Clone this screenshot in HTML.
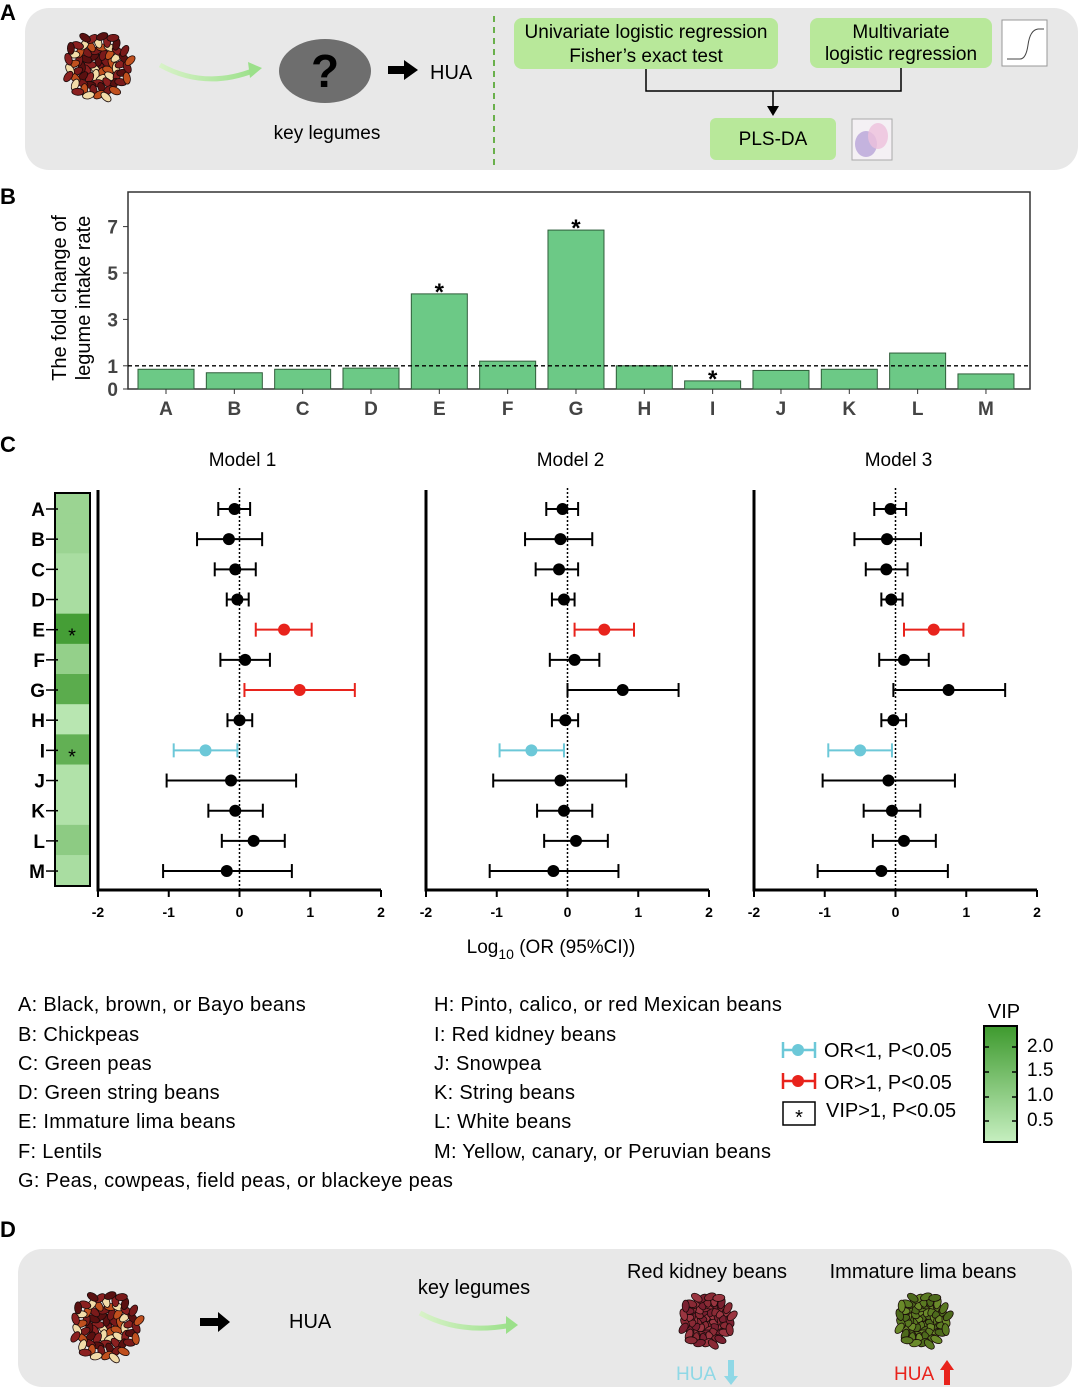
<!DOCTYPE html>
<html><head><meta charset="utf-8"><style>
html,body{margin:0;padding:0;background:#fff}
svg{display:block;font-family:"Liberation Sans",Arial,sans-serif}
</style></head><body>
<svg id="fig" width="1080" height="1389" viewBox="0 0 1080 1389" xmlns="http://www.w3.org/2000/svg">
<defs>
<linearGradient id="vipgrad" x1="0" y1="1" x2="0" y2="0"><stop offset="0" stop-color="#c6efc0"/><stop offset="1" stop-color="#3e9a2e"/></linearGradient>
<linearGradient id="arrgrad" x1="0" y1="0" x2="1" y2="0"><stop offset="0" stop-color="#d8f2c8"/><stop offset="1" stop-color="#9be08a"/></linearGradient>
</defs>
<!-- Panel A -->
<text x="0" y="20" font-size="22" font-weight="bold">A</text>
<rect x="25" y="8" width="1053" height="162" rx="24" fill="#e8e8e8"/>
<g id="beansA"></g>
<path d="M160,65 Q205,90 255,70" stroke="url(#arrgrad)" stroke-width="5" fill="none"/>
<polygon points="248,62 262,68 250,78" fill="#9be08a"/>
<ellipse cx="325" cy="71" rx="46" ry="32" fill="#6e6e6e"/>
<text x="325" y="87" font-size="46" font-weight="bold" text-anchor="middle" fill="#000">?</text>
<polygon points="388,66 404,66 404,60 418,70 404,80 404,74 388,74" fill="#000"/>
<text x="430" y="79" font-size="20">HUA</text>
<text x="327" y="139" font-size="19" text-anchor="middle">key legumes</text>
<line x1="494" y1="16" x2="494" y2="165" stroke="#6ab04c" stroke-width="2" stroke-dasharray="6,5"/>
<rect x="514" y="18" width="264" height="51" rx="8" fill="#b8e89a"/>
<text x="646" y="38" font-size="19" text-anchor="middle">Univariate logistic regression</text>
<text x="646" y="62" font-size="19" text-anchor="middle">Fisher’s exact test</text>
<rect x="810" y="18" width="182" height="50" rx="8" fill="#b8e89a"/>
<text x="901" y="38" font-size="19" text-anchor="middle">Multivariate</text>
<text x="901" y="60" font-size="19" text-anchor="middle">logistic regression</text>
<rect x="1002" y="20" width="45" height="46" fill="#fff" stroke="#999"/>
<path d="M1007,59 L1020,59 Q1026,59 1028,45 Q1030,30 1038,29 L1044,29" stroke="#444" fill="none"/>
<path d="M646,69 V91 H901 V68 M773,91 V108" stroke="#000" stroke-width="1.5" fill="none"/>
<polygon points="767,106 779,106 773,116" fill="#000"/>
<rect x="710" y="118" width="126" height="42" rx="6" fill="#b8e89a"/>
<text x="773" y="145" font-size="19" text-anchor="middle">PLS-DA</text>
<rect x="852" y="119" width="40" height="41" fill="#f4f0f4" stroke="#aaa"/>
<ellipse cx="866" cy="144" rx="11" ry="13" fill="#b8a4d8" opacity="0.8"/>
<ellipse cx="878" cy="136" rx="10" ry="13" fill="#eec0dc" opacity="0.8"/>

<!-- Panel B -->
<text x="0" y="204" font-size="22" font-weight="bold">B</text>
<text transform="translate(66,298) rotate(-90)" font-size="20" text-anchor="middle">The fold change of</text>
<text transform="translate(90,298) rotate(-90)" font-size="20" text-anchor="middle">legume intake rate</text>
<g id="chartB"></g>

<!-- Panel C -->
<text x="0" y="452" font-size="22" font-weight="bold">C</text>
<g id="chartC"></g>
<text x="551" y="953" font-size="19" text-anchor="middle">Log<tspan font-size="14" dy="6">10</tspan><tspan dy="-6"> (OR (95%CI))</tspan></text>

<!-- Legend text -->
<g font-size="20" letter-spacing="0.3">
<text x="18" y="1011">A:  Black, brown, or Bayo beans</text>
<text x="18" y="1041">B:  Chickpeas</text>
<text x="18" y="1070">C: Green peas</text>
<text x="18" y="1099">D: Green string beans</text>
<text x="18" y="1128">E:  Immature lima beans</text>
<text x="18" y="1158">F:  Lentils</text>
<text x="18" y="1187">G:  Peas, cowpeas, field peas, or blackeye peas</text>
<text x="434" y="1011">H: Pinto, calico, or red Mexican beans</text>
<text x="434" y="1041">I:  Red kidney beans</text>
<text x="434" y="1070">J: Snowpea</text>
<text x="434" y="1099">K: String beans</text>
<text x="434" y="1128">L:  White beans</text>
<text x="434" y="1158">M: Yellow, canary, or Peruvian beans</text>
</g>
<g>
<line x1="783" y1="1050" x2="815" y2="1050" stroke="#6cc8d8" stroke-width="2.5"/><line x1="783" y1="1042" x2="783" y2="1058" stroke="#6cc8d8" stroke-width="2.5"/><line x1="815" y1="1042" x2="815" y2="1058" stroke="#6cc8d8" stroke-width="2.5"/><circle cx="798" cy="1050" r="6" fill="#6cc8d8"/>
<text x="824" y="1057" font-size="20">OR&lt;1, P&lt;0.05</text>
<line x1="783" y1="1081" x2="815" y2="1081" stroke="#e8231c" stroke-width="2.5"/><line x1="783" y1="1073" x2="783" y2="1089" stroke="#e8231c" stroke-width="2.5"/><line x1="815" y1="1073" x2="815" y2="1089" stroke="#e8231c" stroke-width="2.5"/><circle cx="798" cy="1081" r="6" fill="#e8231c"/>
<text x="824" y="1089" font-size="20">OR&gt;1, P&lt;0.05</text>
<rect x="783" y="1102" width="32" height="23" fill="#fff" stroke="#000" stroke-width="1.5"/><text x="799" y="1124" font-size="20" text-anchor="middle">*</text>
<text x="826" y="1117" font-size="20">VIP&gt;1, P&lt;0.05</text>
</g>
<g>
<text x="1004" y="1018" font-size="20" text-anchor="middle">VIP</text>
<rect x="984" y="1026" width="33" height="116" fill="url(#vipgrad)" stroke="#000" stroke-width="2"/>
<g stroke="#000" stroke-width="1.5"><line x1="984" y1="1047" x2="989" y2="1047"/><line x1="1012" y1="1047" x2="1017" y2="1047"/><line x1="984" y1="1072" x2="989" y2="1072"/><line x1="1012" y1="1072" x2="1017" y2="1072"/><line x1="984" y1="1097" x2="989" y2="1097"/><line x1="1012" y1="1097" x2="1017" y2="1097"/><line x1="984" y1="1121" x2="989" y2="1121"/><line x1="1012" y1="1121" x2="1017" y2="1121"/></g>
<g font-size="19"><text x="1027" y="1052">2.0</text><text x="1027" y="1076">1.5</text><text x="1027" y="1101">1.0</text><text x="1027" y="1126">0.5</text></g>
</g>

<!-- Panel D -->
<text x="0" y="1237" font-size="22" font-weight="bold">D</text>
<rect x="18" y="1249" width="1054" height="138" rx="24" fill="#e8e8e8"/>
<g id="beansD"></g>
<polygon points="200,1318 218,1318 218,1312 230,1322 218,1332 218,1326 200,1326" fill="#000"/>
<text x="289" y="1328" font-size="20">HUA</text>
<text x="474" y="1294" font-size="20" text-anchor="middle">key legumes</text>
<path d="M420,1313 Q460,1335 512,1325" stroke="url(#arrgrad)" stroke-width="5" fill="none"/>
<polygon points="506,1316 518,1325 506,1334" fill="#9be08a"/>
<text x="707" y="1278" font-size="20" text-anchor="middle">Red kidney beans</text>
<text x="923" y="1278" font-size="20" text-anchor="middle">Immature lima beans</text>
<g id="kidney"></g>
<g id="lima"></g>
<text x="676" y="1380" font-size="19" fill="#8fd8e6">HUA</text>
<polygon points="728,1360 734,1360 734,1376 738,1376 731,1385 724,1376 728,1376" fill="#8fd8e6"/>
<text x="894" y="1380" font-size="19" fill="#e8231c">HUA</text>
<polygon points="944,1385 950,1385 950,1370 954,1370 947,1360 940,1370 944,1370" fill="#e8231c"/>
</svg>
<script>
// ===== Panel B data =====
const barCats = ["A","B","C","D","E","F","G","H","I","J","K","L","M"];
const barVals = [0.85,0.7,0.85,0.9,4.1,1.2,6.85,1.0,0.35,0.8,0.85,1.55,0.65];
const barSig = [0,0,0,0,1,0,1,0,1,0,0,0,0];
const barTicks = [0,1,3,5,7];
// ===== Panel C data =====
const rowCats = ["A","B","C","D","E","F","G","H","I","J","K","L","M"];
const vipVals = [0.9,0.9,0.7,0.7,2.1,1.0,1.8,0.5,1.7,0.6,0.6,1.1,0.7];
const vipSig = [0,0,0,0,1,0,0,0,1,0,0,0,0];
const modelNames = ["Model 1","Model 2","Model 3"];
const m1Est = [-0.07,-0.15,-0.06,-0.03,0.63,0.08,0.85,0.0,-0.48,-0.12,-0.06,0.2,-0.18];
const m1Lo  = [-0.3,-0.6,-0.35,-0.18,0.23,-0.27,0.07,-0.17,-0.93,-1.03,-0.44,-0.25,-1.08];
const m1Hi  = [0.15,0.32,0.23,0.13,1.02,0.43,1.63,0.18,-0.03,0.8,0.33,0.64,0.74];
const m2Est = [-0.07,-0.1,-0.12,-0.05,0.52,0.1,0.78,-0.03,-0.51,-0.1,-0.05,0.12,-0.2];
const m2Lo  = [-0.3,-0.6,-0.45,-0.22,0.1,-0.25,0.0,-0.22,-0.96,-1.05,-0.43,-0.33,-1.1];
const m2Hi  = [0.15,0.35,0.15,0.1,0.94,0.45,1.57,0.15,-0.05,0.83,0.35,0.57,0.72];
const m3Est = [-0.07,-0.12,-0.13,-0.06,0.54,0.12,0.75,-0.03,-0.5,-0.1,-0.05,0.12,-0.2];
const m3Lo  = [-0.3,-0.58,-0.42,-0.2,0.12,-0.23,-0.03,-0.2,-0.95,-1.03,-0.45,-0.32,-1.1];
const m3Hi  = [0.15,0.36,0.17,0.1,0.96,0.47,1.55,0.15,-0.05,0.84,0.35,0.57,0.74];
const xTicks = [-2,-1,0,1,2];

const NS="http://www.w3.org/2000/svg";
function mk(tag,attrs,parent){const e=document.createElementNS(NS,tag);for(const k in attrs)e.setAttribute(k,attrs[k]);parent.appendChild(e);return e;}

// ---- Bar chart ----
(function(){
const g=document.getElementById('chartB');
const L=128,R=1030,T=192,B=389;
const y=v=>B-v*23.2;
const x=i=>166+i*68.33;
const frame=mk('rect',{x:L,y:T,width:R-L,height:B-T,fill:'none',stroke:'#333','stroke-width':1.5},g);


barTicks.forEach(t=>{
 const tl=mk('text',{x:L-10,y:y(t)+7,'font-size':19,'font-weight':'bold','text-anchor':'end',fill:'#444'},g);tl.textContent=t;
 
 
 mk('line',{x1:L-5,x2:L,y1:y(t),y2:y(t),stroke:'#333'},g);
});
barVals.forEach((v,i)=>{
 const r=mk('rect',{x:x(i)-28,y:y(v),width:56,height:B-y(v),fill:'#6cc986',stroke:'#2f5d3a','stroke-width':1},g);
 
 
 const t=mk('text',{x:x(i),y:B+26,'font-size':19,'font-weight':'bold','text-anchor':'middle',fill:'#444'},g);t.textContent=barCats[i];
 
 
 mk('line',{x1:x(i),x2:x(i),y1:B,y2:B+5,stroke:'#333'},g);
 if(barSig[i]){const s=mk('text',{x:x(i),y:y(v)+6,'font-size':24,'font-weight':'bold','text-anchor':'middle'},g);s.textContent='*';
 
 }
});
const ref=mk('line',{x1:L,x2:R,y1:y(1),y2:y(1),stroke:'#000','stroke-dasharray':'4,3','stroke-width':1.3},g);


})();

// ---- Forest plots ----
(function(){
const g=document.getElementById('chartC');
const rowY=i=>509+i*30.17;
const hc=v=>{const t=Math.min(1,Math.max(0,(v-0.3)/1.9));const a=[198,239,192],b=[62,154,46];return 'rgb('+a.map((c,k)=>Math.round(c+(b[k]-c)*t)).join(',')+')';};
vipVals.forEach((v,i)=>{
 const c=mk('rect',{x:55,y:rowY(i)-16,width:35,height:31,fill:hc(v)},g);
 
 
 const l=mk('text',{x:45,y:rowY(i)+7,'font-size':19,'font-weight':'bold','text-anchor':'end'},g);l.textContent=rowCats[i];
 
 
 mk('line',{x1:46,x2:58,y1:rowY(i),y2:rowY(i),stroke:'#000','stroke-width':1.5},g);
 if(vipSig[i]){const s=mk('text',{x:72,y:rowY(i)+13,'font-size':20,'text-anchor':'middle'},g);s.textContent='*';
 
 }
});
const hb=mk('rect',{x:55,y:493,width:35,height:393,fill:'none',stroke:'#000','stroke-width':2},g);


const models=[[m1Est,m1Lo,m1Hi],[m2Est,m2Lo,m2Hi],[m3Est,m3Lo,m3Hi]];
const origins=[98,426,754];
models.forEach((m,k)=>{
 const L=origins[k];const x=v=>L+141.5+v*70.75;
 const title=mk('text',{x:x(0)+3,y:466,'font-size':19,'text-anchor':'middle'},g);title.textContent=modelNames[k];
 
 
 const ax=mk('path',{d:'M'+L+',490 V890 H'+x(2),stroke:'#000','stroke-width':3,fill:'none'},g);
 
 
 xTicks.forEach(t=>{mk('line',{x1:x(t),x2:x(t),y1:890,y2:897,stroke:'#000','stroke-width':2},g);
  const tl=mk('text',{x:x(t),y:917,'font-size':14,'font-weight':'bold','text-anchor':'middle'},g);tl.textContent=t;
  
  });
 const z=mk('line',{x1:x(0),x2:x(0),y1:488,y2:890,stroke:'#000','stroke-dasharray':'2,2','stroke-width':1.5},g);
 
 
 m[0].forEach((e,i)=>{
  const lo=m[1][i],hi=m[2][i],yy=rowY(i);
  const col=lo>0?'#e8231c':(hi<0?'#6cc8d8':'#000');
  const gg=mk('g',{},g);
  
  
  mk('line',{x1:x(lo),x2:x(hi),y1:yy,y2:yy,stroke:col,'stroke-width':2},gg);
  mk('line',{x1:x(lo),x2:x(lo),y1:yy-7,y2:yy+7,stroke:col,'stroke-width':2},gg);
  mk('line',{x1:x(hi),x2:x(hi),y1:yy-7,y2:yy+7,stroke:col,'stroke-width':2},gg);
  mk('circle',{cx:x(e),cy:yy,r:6,fill:col},gg);
 });
});
})();

// ---- decorative bean piles ----
function pile(id,cx,cy,rad,cols){
 const g=document.getElementById(id);
 for(let i=0;i<70;i++){
  const a=i*2.39996,r=rad*Math.sqrt(i/70);
  const px=cx+r*Math.cos(a),py=cy+r*Math.sin(a);
  mk('ellipse',{cx:px.toFixed(1),cy:py.toFixed(1),rx:6,ry:3.5,fill:cols[i%cols.length],stroke:'#1a0a0a','stroke-width':0.8,transform:'rotate('+((i*47)%180)+' '+px.toFixed(1)+' '+py.toFixed(1)+')'},g);
 }
}
pile('beansA',98,66,33,['#7a1a1a','#f2dca8','#5a1010','#c0501e','#8b2020']);
pile('beansD',106,1326,34,['#7a1a1a','#f2dca8','#5a1010','#c0501e','#8b2020']);
pile('kidney',707,1320,26,['#8a2a35','#7a2030','#9a3540']);
pile('lima',923,1320,26,['#5a7a22','#6a8a2a','#4d6a1c']);
</script>
</body></html>
